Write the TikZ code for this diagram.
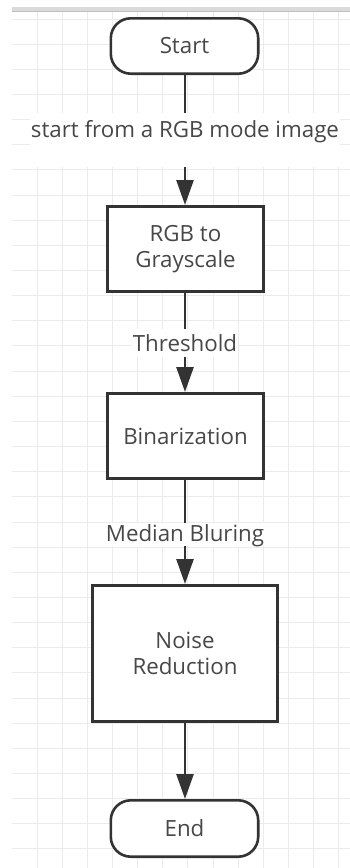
\documentclass[tikz,border=0pt]{standalone}
\usepackage{fontspec}
\setmainfont{Open Sans}
\usetikzlibrary{arrows.meta}
\definecolor{gridc}{HTML}{EBEBEB}
\definecolor{topband}{HTML}{DADADA}
\definecolor{edge}{HTML}{333333}
\definecolor{txt}{HTML}{474747}
\tikzset{
  box/.style={draw=edge, line width=2.6pt, fill=white, text=txt, align=center,
    font=\fontsize{22.3}{26.5}\selectfont, inner sep=0pt},
  term/.style={box, rounded corners=20pt},
  conn/.style={draw=edge, line width=2.6pt, -{Triangle[length=25pt,width=17pt]}},
  elabel/.style={fill=white, text=txt, font=\fontsize{22.3}{26.5}\selectfont,
    inner xsep=1pt, inner ysep=0pt, anchor=base}
}
\begin{document}
\begin{tikzpicture}[x=1pt,y=-1pt]
\useasboundingbox (0,0) rectangle (350,868);
\fill[white] (0,0) rectangle (350,868);
% grid
\foreach \k in {0,...,12} \draw[gridc, line width=1pt] ({37+25.15*\k},11) -- ({37+25.15*\k},868);
\foreach \k in {0,...,33} \draw[gridc, line width=1pt] (12,{19+25.15*\k}) -- (350,{19+25.15*\k});
\fill[topband] (12,7) rectangle (350,11);
\draw[black!25, line width=0.6pt] (12,11) -- (350,11);
% nodes
\node[term, minimum width=147.4pt, minimum height=55.4pt] (start) at (184.5,46) {Start};
\node[box, minimum width=156.4pt, minimum height=85.4pt] (rgb) at (185.5,249) {RGB to\\Grayscale};
\node[box, minimum width=156.4pt, minimum height=85.4pt] (bin) at (185.5,436) {Binarization};
\node[box, minimum width=185.4pt, minimum height=136.4pt] (noise) at (185,653.5) {Noise\\Reduction};
\node[term, minimum width=147.4pt, minimum height=56.4pt] (end) at (184.5,828.5) {End};
% connectors
\draw[conn] (start.south -| 185,0) -- (rgb.north -| 185,0);
\draw[conn] (rgb.south -| 185,0) -- (bin.north -| 185,0);
\draw[conn] (bin.south -| 185,0) -- (noise.north -| 185,0);
\draw[conn] (noise.south -| 185,0) -- (end.north -| 185,0);
% edge labels
\node[elabel, text height=24pt, text depth=30pt] (l1) at (185,137) {start from a RGB mode image};
\node[elabel, text height=22pt, text depth=6pt] (l2) at (185,351) {Threshold};
\node[elabel, text height=18pt, text depth=5pt] (l3) at (185,541) {Median Bluring};
\end{tikzpicture}
\end{document}
